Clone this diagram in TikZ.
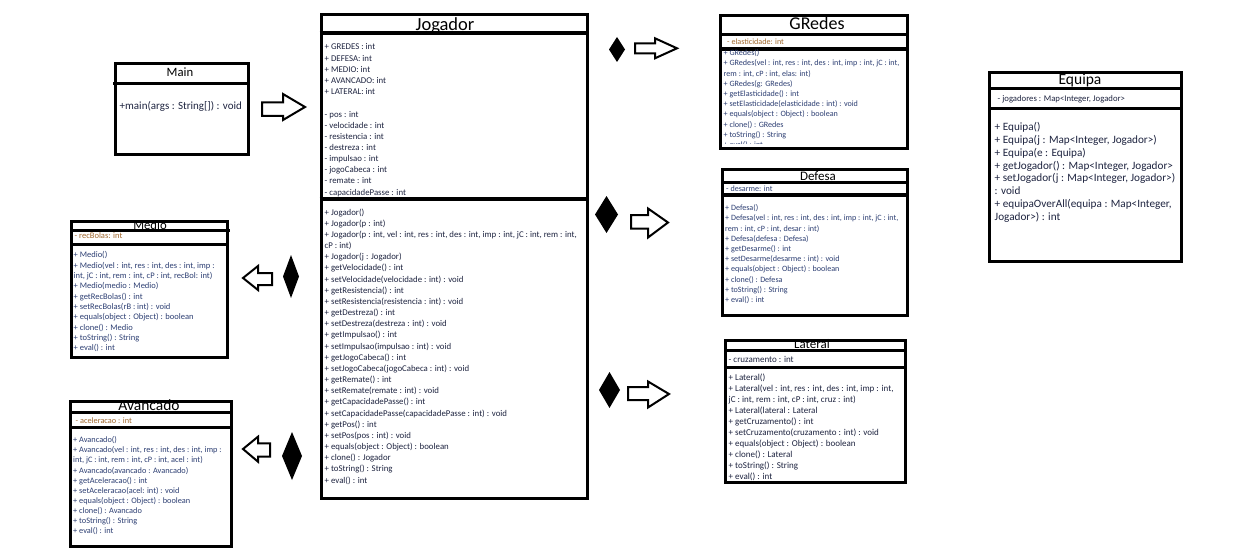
\documentclass[tikz,border=0pt]{standalone}
\usepackage{fontspec}
\setmainfont{Carlito}
\definecolor{ink}{HTML}{1E2440}
\definecolor{inkb}{HTML}{2D3F73}
\definecolor{inko}{HTML}{A0682E}
\begin{document}
\begin{tikzpicture}[x=1pt,y=-1pt,
  umlbox/.style={draw=black, line width=3pt, inner sep=0pt, anchor=north west},
  sepl/.style={line width=3pt},
  ttl/.style={inner sep=0pt, anchor=base, text=black},
  tx/.style={inner sep=0pt, anchor=base west, text=ink},
  blk/.style={draw=black, line width=2pt, fill=white, line join=miter},
  dia/.style={fill=black},
  fJ/.style={font=\fontsize{8.8}{10}\selectfont},
  fG/.style={font=\fontsize{8.1}{10}\selectfont, text=inkb},
  fL/.style={font=\fontsize{9}{10}\selectfont},
  fE/.style={font=\fontsize{11.2}{12}\selectfont},
  fEa/.style={font=\fontsize{8.7}{10}\selectfont},
  fMe/.style={font=\fontsize{8.5}{10}\selectfont, text=inkb},
  fAv/.style={font=\fontsize{8.3}{10}\selectfont, text=inkb}]
\useasboundingbox (0,0) rectangle (1241,548);
\fill[white] (0,0) rectangle (1241,548);

% ---------------- Jogador ----------------
\node[umlbox, minimum width=265.8pt, minimum height=484pt] (jogador) at (319.7,12.7) {};
\draw[sepl, line width=4pt] (319.7,32.7) -- (586,32.7);
\draw[sepl, line width=4pt] (319.7,198.8) -- (585.5,198.8);
\node[ttl, font=\fontsize{18.5}{19}\selectfont] (jogT) at (445,31) {Jogador};
\foreach \t [count=\i] in {{+ GREDES : int},{+ DEFESA: int},{+ MEDIO: int},{+ AVANCADO: int},{+ LATERAL: int}}
  \node[tx, fJ] (ja\i) at (324.5,{50+11.08*(\i-1)}) {\t};
\foreach \t [count=\i] in {{- pos : int},{- velocidade : int},{- resistencia : int},{- destreza : int},{- impulsao : int},{- jogoCabeca : int},{- remate : int},{- capacidadePasse : int}}
  \node[tx, fJ] (jb\i) at (324.5,{117.5+11.08*(\i-1)}) {\t};
\foreach \t [count=\i] in {{+ Jogador()},{+ Jogador(p : int)},{+ Jogador(p : int, vel : int, res : int, des : int, imp : int, jC : int, rem : int,},{cP : int)},{+ Jogador(j : Jogador)},{+ getVelocidade() : int},{+ setVelocidade(velocidade : int) : void},{+ getResistencia() : int},{+ setResistencia(resistencia : int) : void},{+ getDestreza() : int},{+ setDestreza(destreza : int) : void},{+ getImpulsao() : int},{+ setImpulsao(impulsao : int) : void},{+ getJogoCabeca() : int},{+ setJogoCabeca(jogoCabeca : int) : void},{+ getRemate() : int},{+ setRemate(remate : int) : void},{+ getCapacidadePasse() : int},{+ setCapacidadePasse(capacidadePasse : int) : void},{+ getPos() : int},{+ setPos(pos : int) : void},{+ equals(object : Object) : boolean},{+ clone() : Jogador},{+ toString() : String},{+ eval() : int}}
  \node[tx, fJ] (jm\i) at (324.5,{215+11.17*(\i-1)}) {\t};

% ---------------- GRedes ----------------
\node[umlbox, minimum width=187pt, minimum height=132.4pt] (gredes) at (719,14.3) {};
\draw[sepl] (719,35) -- (906,35);
\draw[sepl, line width=4pt] (719,48.7) -- (906,48.7);
\node[ttl, font=\fontsize{18}{18}\selectfont] (gT) at (817,29.5) {GRedes};
\node[tx, fG, text=inko] (ga) at (727,44.5) {- elasticidade: int};
\begin{scope}
\clip (719,50) rectangle (906,143.5);
\foreach \t [count=\i] in {{+ GRedes()},{+ GRedes(vel : int, res : int, des : int, imp : int, jC : int,},{rem : int, cP : int, elas: int)},{+ GRedes(g: GRedes)},{+ getElasticidade() : int},{+ setElasticidade(elasticidade : int) : void},{+ equals(object : Object) : boolean},{+ clone() : GRedes},{+ toString() : String},{+ eval() : int}}
  \node[tx, fG] (gm\i) at (723.5,{55.7+10.2*(\i-1)}) {\t};
\end{scope}

% ---------------- Defesa ----------------
\node[umlbox, minimum width=185pt, minimum height=145.4pt] (defesa) at (721.3,168.3) {};
\draw[sepl] (721.3,182.7) -- (906.3,182.7);
\draw[sepl, line width=4pt] (721.3,194.5) -- (906.3,194.5);
\node[ttl, font=\fontsize{13}{13}\selectfont] (dT) at (818,180) {Defesa};
\node[tx, fG] (da) at (726,191.5) {- desarme: int};
\foreach \t [count=\i] in {{+ Defesa()},{+ Defesa(vel : int, res : int, des : int, imp : int, jC : int,},{rem : int, cP : int, desar : int)},{+ Defesa(defesa : Defesa)},{+ getDesarme() : int},{+ setDesarme(desarme : int) : void},{+ equals(object : Object) : boolean},{+ clone() : Defesa},{+ toString() : String},{+ eval() : int}}
  \node[tx, fG] (dm\i) at (725,{210.7+10.2*(\i-1)}) {\t};

% ---------------- Lateral ----------------
\node[umlbox, minimum width=180pt, minimum height=141.4pt] (lateral) at (724.3,339.3) {};
\draw[sepl] (724.3,350.3) -- (904.3,350.3);
\draw[sepl, line width=3.5pt] (724.3,367.3) -- (907,367.3);
\node[ttl, font=\fontsize{13}{13}\selectfont] (lT) at (812,348.5) {Lateral};
\node[tx, fL] (la) at (728.5,362) {- cruzamento : int};
\foreach \t [count=\i] in {{+ Lateral()},{+ Lateral(vel : int, res : int, des : int, imp : int,},{jC : int, rem : int, cP : int, cruz : int)},{+ Lateral(lateral : Lateral},{+ getCruzamento() : int},{+ setCruzamento(cruzamento : int) : void},{+ equals(object : Object) : boolean},{+ clone() : Lateral},{+ toString() : String},{+ eval() : int}}
  \node[tx, fL] (lm\i) at (728.5,{380+11*(\i-1)}) {\t};

% ---------------- Equipa ----------------
\node[umlbox, minimum width=192pt, minimum height=189.1pt] (equipa) at (988.3,70.7) {};
\draw[sepl] (988.3,88.3) -- (1183,88.3);
\draw[sepl] (988.3,108.3) -- (1180.3,108.3);
\node[ttl, font=\fontsize{15.5}{16}\selectfont] (eT) at (1080,84.3) {Equipa};
\node[tx, fEa] (ea) at (997.5,101.5) {- jogadores : Map<Integer, Jogador>};
\foreach \t [count=\i] in {{+ Equipa()},{+ Equipa(j : Map<Integer, Jogador>)},{+ Equipa(e : Equipa)},{+ getJogador() : Map<Integer, Jogador>},{+ setJogador(j : Map<Integer, Jogador>)},{: void},{+ equipaOverAll(equipa : Map<Integer,},{Jogador>) : int}}
  \node[tx, fE] (em\i) at (994.5,{130.5+12.86*(\i-1)}) {\t};

% ---------------- Main ----------------
\node[umlbox, minimum width=132.4pt, minimum height=91pt] (main) at (114.3,61.7) {};
\draw[sepl] (113,83.7) -- (246.7,83.7);
\node[ttl, font=\fontsize{12.7}{13}\selectfont] (mT) at (180,76.7) {Main};
\node[tx, font=\fontsize{11}{12}\selectfont] (mm) at (119.5,109.5) {+main(args : String[]) : void};

% ---------------- Medio ----------------
\node[umlbox, minimum width=156.3pt, minimum height=136.1pt] (medio) at (70,219.7) {};
\draw[sepl] (70,230.3) -- (230,230.3);
\draw[sepl] (70,244.3) -- (226.3,244.3);
\node[ttl, font=\fontsize{12.7}{13}\selectfont] (meT) at (150,229) {Medio};
\node[tx, fMe, text=inko] (mea) at (74.5,238.5) {- recBolas: int};
\foreach \t [count=\i] in {{+ Medio()},{+ Medio(vel : int, res : int, des : int, imp :},{int, jC : int, rem : int, cP : int, recBol: int)},{+ Medio(medio : Medio)},{+ getRecBolas() : int},{+ setRecBolas(rB : int) : void},{+ equals(object : Object) : boolean},{+ clone() : Medio},{+ toString() : String},{+ eval() : int}}
  \node[tx, fMe] (mem\i) at (73.5,{257.7+10.33*(\i-1)}) {\t};

% ---------------- Avancado ----------------
\node[umlbox, minimum width=160.7pt, minimum height=145.6pt] (avancado) at (69.3,399.7) {};
\draw[sepl] (69.3,412) -- (230,412);
\draw[sepl, line width=3.5pt] (69.3,427.3) -- (232,427.3);
\node[ttl, font=\fontsize{15.5}{16}\selectfont] (aT) at (149,410.3) {Avancado};
\node[tx, fAv, text=inko] (aa) at (75.5,423.5) {- aceleracao : int};
\foreach \t [count=\i] in {{+ Avancado()},{+ Avancado(vel : int, res : int, des : int, imp :},{int, jC : int, rem : int, cP : int, acel : int)},{+ Avancado(avancado : Avancado)},{+ getAceleracao() : int},{+ setAceleracao(acel: int) : void},{+ equals(object : Object) : boolean},{+ clone() : Avancado},{+ toString() : String},{+ eval() : int}}
  \node[tx, fAv] (am\i) at (73,{442.7+10.1*(\i-1)}) {\t};

% ---------------- block arrows ----------------
\draw[blk] (262,102.5) -- (283,102.5) -- (283,94) -- (305,107) -- (283,120) -- (283,116) -- (262,116) -- cycle;
\draw[blk] (635,43.3) -- (655,43.3) -- (655,38.3) -- (677,48.3) -- (655,58.3) -- (655,53.3) -- (635,53.3) -- cycle;
\draw[blk] (631,215) -- (648,215) -- (648,208.5) -- (668,222.5) -- (648,237.5) -- (648,228.5) -- (631,228.5) -- cycle;
\draw[blk] (628,387) -- (648,387) -- (648,381.5) -- (669,394) -- (648,407.5) -- (648,400) -- (628,400) -- cycle;
\draw[blk] (272,273) -- (258,273) -- (258,266) -- (243,278) -- (258,290) -- (258,285) -- (272,285) -- cycle;
\draw[blk] (270,443.3) -- (258,443.3) -- (258,436.7) -- (243,449) -- (258,461.7) -- (258,456.7) -- (270,456.7) -- cycle;

% ---------------- diamonds ----------------
\fill[dia] (617,37) -- (625,49.5) -- (617,62) -- (609,49.5) -- cycle;
\fill[dia] (606.5,196) -- (618,214.5) -- (606.5,233) -- (595,214.5) -- cycle;
\fill[dia] (609.5,372) -- (620,390) -- (609.5,408) -- (599,390) -- cycle;
\fill[dia] (291,255) -- (299,276.5) -- (291,298) -- (283,276.5) -- cycle;
\fill[dia] (292,432) -- (302,456) -- (292,480) -- (282,456) -- cycle;
\end{tikzpicture}
\end{document}
